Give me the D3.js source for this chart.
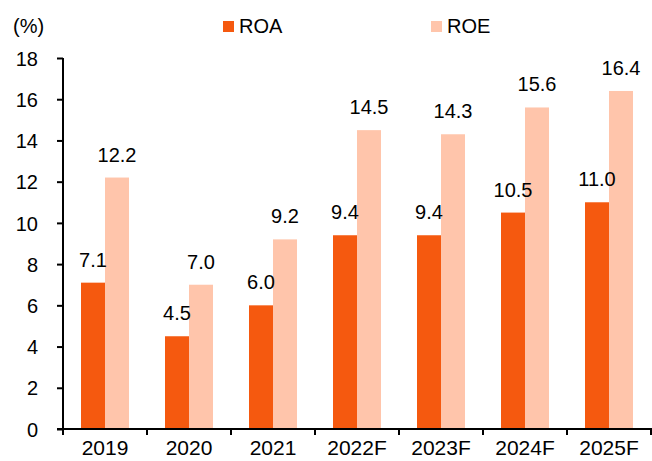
<!DOCTYPE html>
<html>
<head>
<meta charset="utf-8">
<script src="https://cdn.jsdelivr.net/npm/d3@7"></script>
<style>
  body { margin: 0; background: #fff; }
  svg text { font-family: Arial, "Liberation Sans", sans-serif; fill: #000; }
</style>
</head>
<body>
<svg id="chart"></svg>
<script>
const years = ['2019', '2020', '2021', '2022F', '2023F', '2024F', '2025F'];
const roa = [7.1, 4.5, 6.0, 9.4, 9.4, 10.5, 11.0];
const roe = [12.2, 7.0, 9.2, 14.5, 14.3, 15.6, 16.4];
const series = ['ROA', 'ROE'];
const colors = ['#F5590F', '#FFC5AB'];
const yTicks = [0, 2, 4, 6, 8, 10, 12, 14, 16, 18];

const width = 652, height = 461;
const margin = {top: 58, right: 1, bottom: 32, left: 63};
const fontSize = '20px';

const svg = d3.select('#chart')
    .attr('width', width)
    .attr('height', height);

const x = d3.scaleBand()
    .domain(years)
    .range([margin.left, width - margin.right]);

const inner = d3.scaleBand()
    .domain(series)
    .range([0, 48]);

const y = d3.scaleLinear()
    .domain([0, 18])
    .range([height - margin.bottom, margin.top]);

const rows = years.map((yr, i) => ({year: yr, vals: [roa[i], roe[i]]}));

const groups = svg.append('g')
    .selectAll('g')
    .data(rows)
    .join('g')
    .attr('transform', d => `translate(${x(d.year) + (x.bandwidth() - 48) / 2},0)`);

groups.selectAll('rect')
    .data(d => d.vals.map((v, j) => ({key: series[j], v: v, c: colors[j]})))
    .join('rect')
    .attr('x', d => inner(d.key))
    .attr('width', inner.bandwidth())
    .attr('y', d => y(d.v))
    .attr('height', d => y(0) - y(d.v))
    .attr('fill', d => d.c);

groups.selectAll('text')
    .data(d => d.vals.map((v, j) => ({key: series[j], v: v})))
    .join('text')
    .attr('x', d => inner(d.key) + inner.bandwidth() / 2)
    .attr('y', d => y(d.v) - 16)
    .attr('text-anchor', 'middle')
    .style('font-size', fontSize)
    .text(d => d.v.toFixed(1));

// y axis
const yAxisG = svg.append('g')
    .attr('transform', `translate(${margin.left},0)`)
    .call(d3.axisLeft(y).tickValues(yTicks).tickSize(6).tickPadding(19));
yAxisG.selectAll('.domain').attr('stroke-width', 2).attr('d', `M0,${y(18)}V${y(0)}`);
yAxisG.selectAll('.tick line').attr('stroke-width', 2);
yAxisG.selectAll('.tick text').style('font-size', fontSize).attr('dy', '0.36em');

// x axis (labels nudged up so they are not clipped at the bottom edge)
const xAxisG = svg.append('g')
    .attr('transform', `translate(0,${y(0)})`)
    .call(d3.axisBottom(x).tickSize(0).tickPadding(11));
xAxisG.selectAll('.domain').attr('stroke-width', 2).attr('d', `M${margin.left - 6},0H${width}`);
xAxisG.selectAll('.tick text').style('font-size', '21px').attr('dy', '0.71em');
xAxisG.selectAll('.sep')
    .data(years)
    .join('line')
    .attr('class', 'sep')
    .attr('x1', d => x(d))
    .attr('x2', d => x(d))
    .attr('y1', 0)
    .attr('y2', 6)
    .attr('stroke', '#000')
    .attr('stroke-width', 2);
xAxisG.append('line')
    .attr('x1', width - margin.right).attr('x2', width - margin.right)
    .attr('y1', 0).attr('y2', 6)
    .attr('stroke', '#000').attr('stroke-width', 2);

// unit label
svg.append('text')
    .attr('x', 13)
    .attr('y', 33)
    .style('font-size', fontSize)
    .text('(%)');

// legend
const legendX = [223, 431];
const legend = svg.append('g')
    .selectAll('g')
    .data(series)
    .join('g')
    .attr('transform', (d, i) => `translate(${legendX[i]},21)`);
legend.append('rect')
    .attr('width', 11)
    .attr('height', 11)
    .attr('fill', (d, i) => colors[i]);
legend.append('text')
    .attr('x', 16)
    .attr('y', 12)
    .style('font-size', fontSize)
    .text(d => d);
</script>
</body>
</html>
